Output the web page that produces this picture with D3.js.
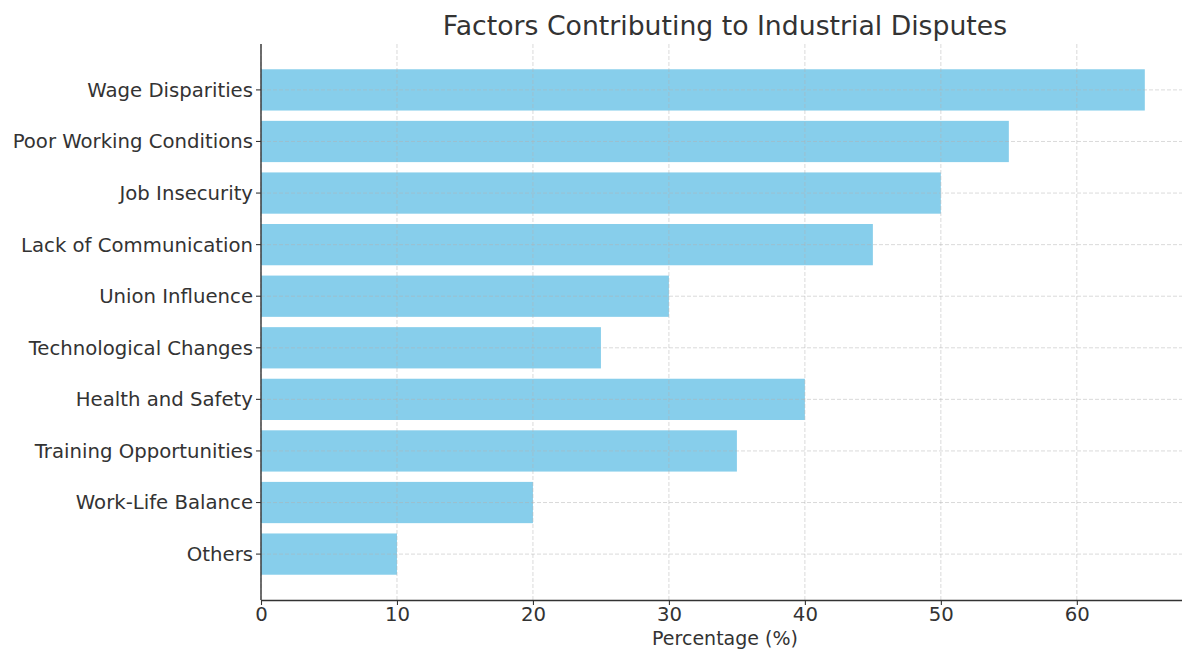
<!DOCTYPE html>
<html><head><meta charset="utf-8">
<script src="https://cdn.jsdelivr.net/npm/d3@7"></script>
<style>body{margin:0;background:#fff;} text{font-family:"DejaVu Sans",sans-serif;}</style>
</head><body>
<svg id="c" width="1182" height="649"></svg>
<script>
const categories = ["Wage Disparities","Poor Working Conditions","Job Insecurity","Lack of Communication","Union Influence","Technological Changes","Health and Safety","Training Opportunities","Work-Life Balance","Others"];
const values = [65,55,50,45,30,25,40,35,20,10];
const xTicks = [0,10,20,30,40,50,60];
const title = "Factors Contributing to Industrial Disputes";
const xLabel = "Percentage (%)";

const svg = d3.select("#c");
const L = 261, R = 1189, T = 44, B = 600;
const txt = "#333333";
const fs = "19.7px";
const x = d3.scaleLinear().domain([0, 68.25]).range([L, R]);
const n = categories.length;
const y = d3.scaleLinear().domain([-0.89, n - 1 + 0.89]).range([T, B]);
const bh = (y(0.8) - y(0));

svg.selectAll("rect.bar").data(values).enter().append("rect")
  .attr("x", x(0)).attr("y", (d,i)=>y(i)-bh/2)
  .attr("width", d=>x(d)-x(0)).attr("height", bh)
  .attr("fill", "#87CEEB");

const g = svg.append("g");
g.selectAll("line.vx").data(xTicks).enter().append("line")
  .attr("x1", d=>x(d)).attr("x2", d=>x(d)).attr("y1", T).attr("y2", B)
  .attr("stroke", "#b0b0b0").attr("stroke-opacity", 0.6).attr("stroke-width", 0.8).attr("stroke-dasharray", "4,2");
g.selectAll("line.hy").data(categories).enter().append("line")
  .attr("x1", L).attr("x2", R).attr("y1", (d,i)=>y(i)).attr("y2", (d,i)=>y(i))
  .attr("stroke", "#b0b0b0").attr("stroke-opacity", 0.6).attr("stroke-width", 0.8).attr("stroke-dasharray", "4,2");

const xa = svg.append("g").attr("transform", `translate(0,${B})`)
  .call(d3.axisBottom(x).tickValues(xTicks).tickSize(5).tickSizeOuter(0).tickPadding(2));
xa.select(".domain").attr("stroke", txt).attr("stroke-width", 1.4);
xa.selectAll(".tick line").attr("stroke", txt).attr("stroke-width", 1.1);
xa.selectAll(".tick text").attr("fill", txt).style("font-size", fs);

const ya = svg.append("g").attr("transform", `translate(${L},0)`);
ya.append("line").attr("x1",0).attr("x2",0).attr("y1",T).attr("y2",B).attr("stroke",txt).attr("stroke-width",1.4);
const yt = ya.selectAll("g.t").data(categories).enter().append("g").attr("transform",(d,i)=>`translate(0,${y(i)})`);
yt.append("line").attr("x1",-5).attr("x2",0).attr("stroke",txt).attr("stroke-width",1.1);
yt.append("text").attr("x",-8).attr("dy","0.35em").attr("text-anchor","end").attr("fill",txt).style("font-size",fs).text(d=>d);

svg.append("text").attr("x", (L+R)/2).attr("y", 35).attr("text-anchor","middle").attr("fill",txt).style("font-size","26.7px").text(title);
svg.append("text").attr("x", (L+R)/2).attr("y", 644.5).attr("text-anchor","middle").attr("fill",txt).style("font-size","19px").text(xLabel);
</script>
</body></html>
